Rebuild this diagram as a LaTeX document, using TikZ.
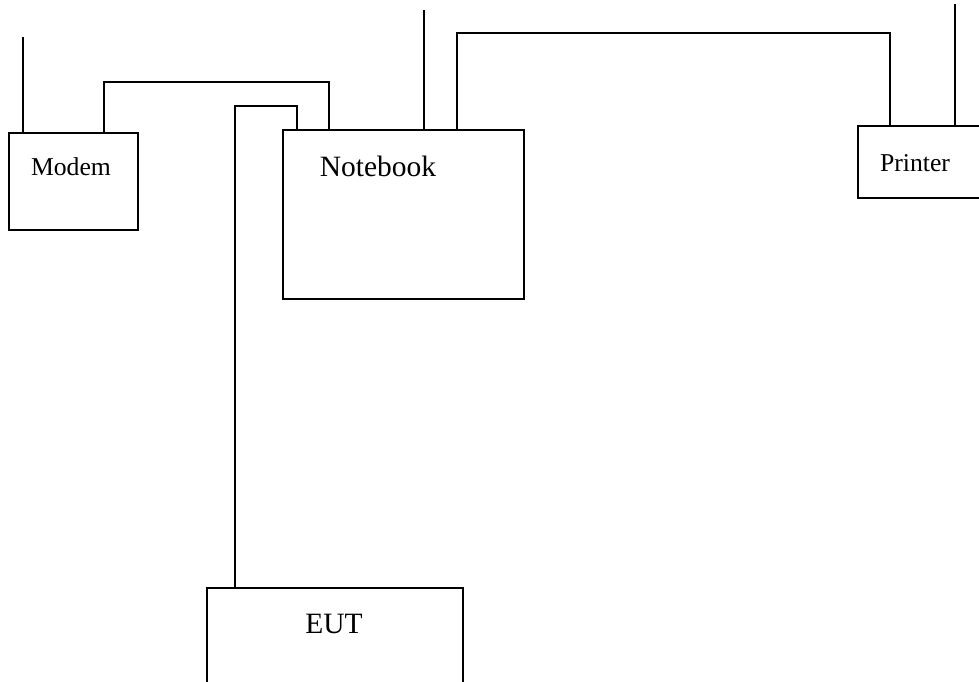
\documentclass[tikz,border=0pt]{standalone}
\usepackage{fontspec}
\setmainfont{Liberation Serif}
\begin{document}
\begin{tikzpicture}[
    x=1pt, y=-1pt,
    unit/.style={rectangle, draw, line width=1.6pt, inner sep=0pt},
    cable/.style={line width=1.6pt},
    smalllbl/.style={font=\fontsize{25.7}{30}\selectfont},
    biglbl/.style={font=\fontsize{29.5}{34}\selectfont}
]
    \clip (0,0) rectangle (979,682);

    % --- UNITS ---
    \node[unit, minimum width=129pt, minimum height=97pt] (modem) at (73.5,181.5) {};
    \node[unit, minimum width=241pt, minimum height=169pt] (notebook) at (403.5,214.5) {};
    \node[unit, minimum width=140pt, minimum height=72pt] (printer) at (928,162) {};
    \node[unit, minimum width=256pt, minimum height=132pt] (eut) at (335,654) {};

    \node[smalllbl] (modemlbl) at (71,167) {Modem};
    \node[biglbl] (notebooklbl) at (378,166) {Notebook};
    \node[smalllbl] (printerlbl) at (915,163) {Printer};
    \node[biglbl] (eutlbl) at (334,624) {EUT};

    % --- CABLES ---
    \draw[cable] ([xshift=15pt]modem.north west) -- ++(0,95pt);
    \draw[cable] ([xshift=96pt]modem.north west) -- ++(0,50pt) -| ([xshift=47pt]notebook.north west);
    \draw[cable] ([xshift=15pt]notebook.north west) -- ++(0,23pt) -| ([xshift=29pt]eut.north west);
    \draw[cable] ([xshift=142pt]notebook.north west) -- ++(0,119pt);
    \draw[cable] ([xshift=175pt]notebook.north west) -- ++(0,96pt) -| ([xshift=33pt]printer.north west);
    \draw[cable] ([xshift=98pt]printer.north west) -- ++(0,121pt);
\end{tikzpicture}
\end{document}
